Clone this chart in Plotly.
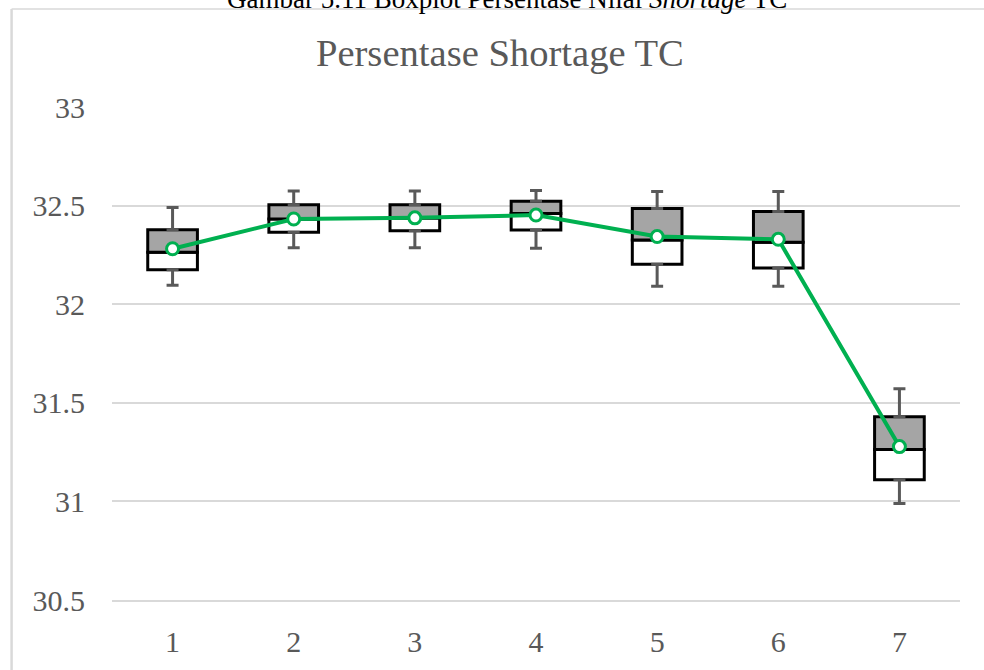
import plotly.graph_objects as go

categories = [1, 2, 3, 4, 5, 6, 7]
q1 = [32.175, 32.365, 32.373, 32.376, 32.202, 32.184, 31.110]
median = [32.264, 32.432, 32.437, 32.460, 32.326, 32.314, 31.263]
q3 = [32.378, 32.504, 32.504, 32.522, 32.485, 32.470, 31.429]
minimum = [32.096, 32.286, 32.286, 32.284, 32.091, 32.091, 30.989]
maximum = [32.490, 32.574, 32.574, 32.577, 32.571, 32.571, 31.571]
mean = [32.281, 32.432, 32.438, 32.452, 32.343, 32.329, 31.278]
y_ticks = [30.5, 31, 31.5, 32, 32.5, 33]

FONT = "Liberation Serif, Times New Roman, serif"
GRAY = "#595959"

fig = go.Figure()

# lower half of box (Q1 -> median), white
fig.add_trace(go.Bar(
    x=categories, y=[m - a for m, a in zip(median, q1)], base=q1,
    width=0.41, marker=dict(color="white", line=dict(color="black", width=3)),
    showlegend=False, hoverinfo="skip"))
# upper half of box (median -> Q3), gray
fig.add_trace(go.Bar(
    x=categories, y=[b - m for b, m in zip(q3, median)], base=median,
    width=0.41, marker=dict(color="#A5A5A5", line=dict(color="black", width=3)),
    showlegend=False, hoverinfo="skip"))

# whiskers
fig.add_trace(go.Scatter(
    x=categories, y=q3, mode="markers", marker=dict(size=1, color="rgba(0,0,0,0)"),
    error_y=dict(type="data", symmetric=False,
                 array=[mx - b for mx, b in zip(maximum, q3)],
                 arrayminus=[0] * len(categories),
                 color=GRAY, thickness=3, width=6),
    showlegend=False, hoverinfo="skip"))
fig.add_trace(go.Scatter(
    x=categories, y=q1, mode="markers", marker=dict(size=1, color="rgba(0,0,0,0)"),
    error_y=dict(type="data", symmetric=False,
                 array=[0] * len(categories),
                 arrayminus=[a - mn for a, mn in zip(q1, minimum)],
                 color=GRAY, thickness=3, width=6),
    showlegend=False, hoverinfo="skip"))

# mean line
fig.add_trace(go.Scatter(
    x=categories, y=mean, mode="lines+markers",
    line=dict(color="#00B050", width=4),
    marker=dict(symbol="circle", size=12, color="white",
                line=dict(color="#00B050", width=3)),
    showlegend=False))

fig.update_layout(
    width=984, height=670,
    margin=dict(l=111.5, r=24, t=107, b=66),
    paper_bgcolor="white", plot_bgcolor="white",
    barmode="overlay",
    font=dict(family=FONT, color=GRAY),
    title=dict(text="Persentase Shortage TC", x=0.508, xref="container",
               xanchor="center", y=1 - 52 / 670, yanchor="middle",
               font=dict(family=FONT, size=38.6, color=GRAY)),
    xaxis=dict(range=[0.5, 7.5], tickmode="array", tickvals=categories,
               ticktext=[str(c) for c in categories], showgrid=False,
               zeroline=False, showline=True, linecolor="#D9D9D9", linewidth=1.5,
               ticks="",
               tickfont=dict(family=FONT, size=30, color=GRAY),
               ticklabelstandoff=14),
    yaxis=dict(range=[30.5, 33], tickmode="array", tickvals=y_ticks,
               ticktext=[f"{v:g}" for v in y_ticks], showgrid=True,
               gridcolor="#D9D9D9", gridwidth=1.5, zeroline=False,
               showline=False, ticks="",
               tickfont=dict(family=FONT, size=30, color=GRAY),
               ticklabelstandoff=26),
    shapes=[
        dict(type="line", xref="paper", yref="paper",
             x0=-0.1184, x1=1.2, y0=1.199, y1=1.199,
             line=dict(color="#D9D9D9", width=1.5), layer="below"),
        dict(type="line", xref="paper", yref="paper",
             x0=-0.1184, x1=-0.1184, y0=-0.3, y1=1.199,
             line=dict(color="#D9D9D9", width=2.5), layer="below"),
    ],
    annotations=[dict(text="Gambar 5.11 Boxplot Persentase Nilai <i>Shortage</i> TC",
                      xref="paper", yref="paper", x=0.466, y=1.185,
                      xanchor="center", yanchor="bottom", showarrow=False,
                      font=dict(family=FONT, size=27, color="black"))],
)

fig.write_html("out.html", config={"displayModeBar": False},
               post_script=("document.body.style.margin='0';"
                            "document.body.style.overflow='hidden';"
                            "document.documentElement.style.overflow='hidden';"))
